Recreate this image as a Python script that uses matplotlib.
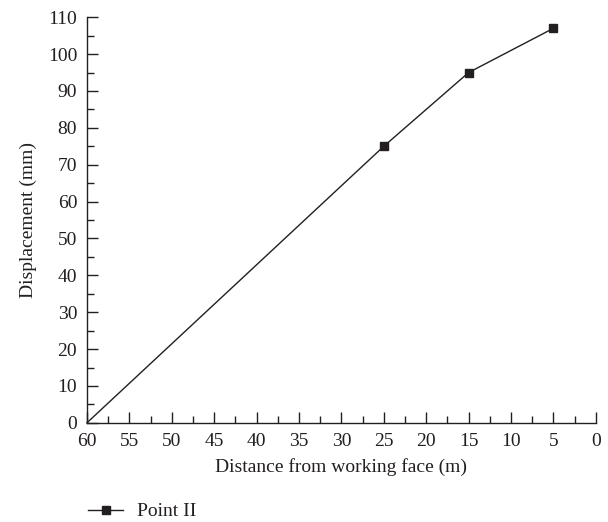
import matplotlib.pyplot as plt
from matplotlib.ticker import MultipleLocator

plt.rcParams['font.family'] = ['Liberation Serif', 'DejaVu Serif']

# data
distance = [60, 25, 15, 5]
displacement = [0, 75, 95, 107]
marker_every = [1, 2, 3]  # first point (at the origin) has no marker

col = '#231f20'

fig = plt.figure(figsize=(6.08, 5.22), dpi=100)
ax = fig.add_axes([0.143, 0.19, 0.837, 0.777])

ax.plot(distance, displacement, color=col, lw=1.0, marker='s', ms=6,
        markevery=marker_every, label='Point II', clip_on=False)

ax.set_xlim(60, 0)
ax.set_ylim(0, 110)
ax.xaxis.set_major_locator(MultipleLocator(5))
ax.xaxis.set_minor_locator(MultipleLocator(2.5))
ax.yaxis.set_major_locator(MultipleLocator(10))
ax.yaxis.set_minor_locator(MultipleLocator(5))
ax.tick_params(which='major', direction='in', length=8, width=1, labelsize=14,
               colors=col, pad=7)
ax.tick_params(which='minor', direction='in', length=5, width=1, colors=col)
for s in ['top', 'right']:
    ax.spines[s].set_visible(False)
for s in ['left', 'bottom']:
    ax.spines[s].set_color(col)
    ax.spines[s].set_linewidth(1.0)

ax.set_xlabel('Distance from working face (m)', fontsize=14, color=col, labelpad=6)
ax.set_ylabel('Displacement (mm)', fontsize=14, color=col, labelpad=8)

fig.legend(loc='center left', bbox_to_anchor=(0.145, 0.02), frameon=False,
           fontsize=14, handlelength=1.8, handletextpad=0.7, labelcolor=col,
           borderpad=0, borderaxespad=0)

fig.savefig('out.png', dpi=100)
